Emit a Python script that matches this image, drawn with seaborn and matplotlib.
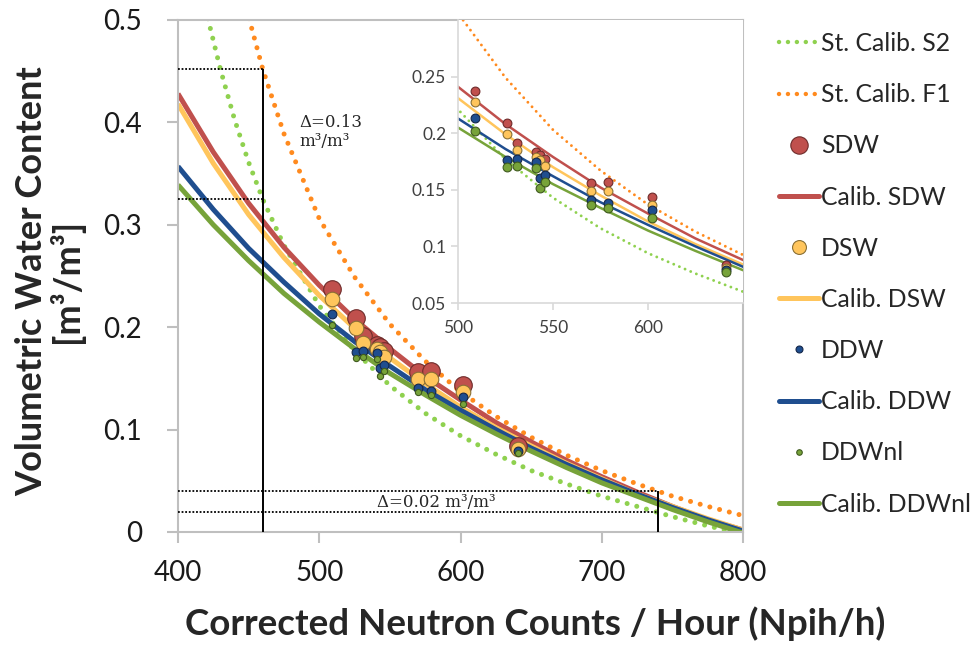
import matplotlib
matplotlib.use("Agg")
import matplotlib.pyplot as plt
from matplotlib.lines import Line2D
import seaborn as sns

# Curves (neutron counts -> volumetric water content)
n_grid = [400, 425, 450, 475, 500, 525, 550, 575, 600, 625, 650, 675, 700, 725, 750, 775, 800]
calib_sdw = [0.428, 0.371, 0.321, 0.278, 0.241, 0.208, 0.179, 0.152, 0.129, 0.107, 0.088, 0.070, 0.054, 0.039, 0.025, 0.012, 0.002]
calib_dsw = [0.418, 0.360, 0.310, 0.268, 0.231, 0.199, 0.170, 0.145, 0.122, 0.102, 0.084, 0.067, 0.052, 0.037, 0.025, 0.013, 0.002]
calib_ddw = [0.357, 0.315, 0.277, 0.244, 0.213, 0.186, 0.162, 0.139, 0.119, 0.100, 0.082, 0.066, 0.051, 0.037, 0.024, 0.012, 0.001]
calib_ddwnl = [0.339, 0.300, 0.265, 0.233, 0.205, 0.179, 0.155, 0.134, 0.114, 0.096, 0.079, 0.063, 0.048, 0.035, 0.022, 0.010, -0.001]

s2_n = [415, 420, 430, 440, 450, 460, 475, 500, 525, 550, 575, 600, 625, 650, 675, 700, 725, 750, 775, 800]
st_calib_s2 = [0.545, 0.508, 0.452, 0.403, 0.361, 0.325, 0.280, 0.221, 0.177, 0.143, 0.116, 0.094, 0.076, 0.060, 0.047, 0.035, 0.025, 0.015, 0.006, -0.002]
f1_n = [440, 450, 460, 475, 500, 525, 550, 575, 600, 625, 650, 675, 700, 725, 750, 775, 800]
st_calib_f1 = [0.565, 0.503, 0.452, 0.389, 0.306, 0.249, 0.203, 0.167, 0.137, 0.113, 0.0925, 0.075, 0.060, 0.047, 0.035, 0.025, 0.016]

# Measured points
pts_n = [509, 526, 531, 541, 543, 546, 570, 579, 602, 641]
sdw = [0.237, 0.209, 0.191, 0.183, 0.181, 0.177, 0.156, 0.157, 0.144, 0.084]
dsw = [0.228, 0.199, 0.185, 0.179, 0.176, 0.171, 0.149, 0.149, 0.137, 0.081]
ddw = [0.213, 0.176, 0.177, 0.175, 0.160, 0.163, 0.141, 0.138, 0.132, 0.079]
ddwnl = [0.202, 0.170, 0.171, 0.169, 0.152, 0.157, 0.137, 0.134, 0.125, 0.077]

# Delta annotation levels
n_wet, wet_hi, wet_lo = 460, 0.452, 0.325
n_dry, dry_hi, dry_lo = 740, 0.040, 0.020

main_xticks = [400, 500, 600, 700, 800]
main_yticks = [0, 0.1, 0.2, 0.3, 0.4, 0.5]
main_ylabels = ["0", "0.1", "0.2", "0.3", "0.4", "0.5"]
inset_xticks = [500, 550, 600]
inset_yticks = [0.05, 0.10, 0.15, 0.20, 0.25]
inset_ylabels = ["0.05", "0.1", "0.15", "0.2", "0.25"]

RED, YEL, BLU, GRN = "#C0504D", "#FFC55C", "#1F4E8F", "#77A33A"
RED_E, YEL_E, BLU_E, GRN_E = "#6E2B2A", "#8A7035", "#14274A", "#3F5A1E"
S2_C, F1_C = "#8FD14F", "#FF8A1E"
GRID = "#BFBFBF"

sns.set_style("white")
plt.rcParams["font.family"] = ["Lato", "DejaVu Sans"]

fig = plt.figure(figsize=(9.79, 6.48), dpi=100)
ax = fig.add_axes([178 / 979, 1 - 532 / 648, 565 / 979, 512 / 648])
axin = fig.add_axes([458 / 979, 1 - 303 / 648, 285 / 979, 283 / 648])

dot = (0, (0.01, 2.0))


def draw_all(a, lw, dot_lw, dot_style, sizes):
    sns.lineplot(x=s2_n, y=st_calib_s2, ax=a, color=S2_C, lw=dot_lw, linestyle=dot_style,
                 dash_capstyle="round", estimator=None, sort=False, legend=False)
    sns.lineplot(x=f1_n, y=st_calib_f1, ax=a, color=F1_C, lw=dot_lw, linestyle=dot_style,
                 dash_capstyle="round", estimator=None, sort=False, legend=False)
    for ys, c in [(calib_sdw, RED), (calib_dsw, YEL), (calib_ddw, BLU), (calib_ddwnl, GRN)]:
        sns.lineplot(x=n_grid, y=ys, ax=a, color=c, lw=lw, estimator=None, sort=False,
                     legend=False, solid_capstyle="butt")
    for ys, c, e, s in [(sdw, RED, RED_E, sizes[0]), (dsw, YEL, YEL_E, sizes[1]),
                        (ddw, BLU, BLU_E, sizes[2]), (ddwnl, GRN, GRN_E, sizes[3])]:
        sns.scatterplot(x=pts_n, y=ys, ax=a, s=s, color=c, edgecolor=e, linewidth=0.8,
                        zorder=5, legend=False)


draw_all(ax, 3.6, 3.6, dot, [160, 110, 40, 20])
draw_all(axin, 1.8, 2.1, (0, (0.01, 2.1)), [40, 40, 40, 40])

# Delta annotations
ax.vlines(n_wet, 0, wet_hi, color="black", lw=1.4, zorder=6)
ax.hlines([wet_hi, wet_lo], 400, n_wet, color="black", lw=1.3, linestyles=(0, (1, 1)), zorder=6)
ax.vlines(n_dry, 0, dry_hi, color="black", lw=1.4, zorder=6)
ax.hlines([dry_hi, dry_lo], 400, n_dry, color="black", lw=1.3, linestyles=(0, (1, 1)), zorder=6)
ax.text(486, 0.408, "Δ=0.13\nm³/m³", family="DejaVu Serif", fontsize=12,
        ha="left", va="top", linespacing=1.15)
ax.text(583, 0.029, "Δ=0.02 m³/m³", family="DejaVu Serif", fontsize=12,
        ha="center", va="center")

# Main axes styling
ax.set_xlim(400, 800)
ax.set_ylim(0, 0.5)
ax.set_xticks(main_xticks)
ax.set_yticks(main_yticks)
ax.set_yticklabels(main_ylabels)
for sp in ax.spines.values():
    sp.set_color(GRID)
    sp.set_linewidth(1.5)
ax.tick_params(axis="both", direction="out", length=8, width=1.5, color=GRID,
               labelsize=20, labelcolor="#1a1a1a", bottom=True, left=True)
ax.tick_params(axis="x", pad=12)
ax.tick_params(axis="y", pad=18)
ax.set_xlabel("Corrected Neutron Counts / Hour (Npih/h)", fontsize=26.5, fontweight="bold")
ax.xaxis.set_label_coords(0.632, -0.145)
ax.set_ylabel("Volumetric Water Content\n[m³/m³]", fontsize=26, fontweight="bold",
              linespacing=1.0)
ax.yaxis.set_label_coords(-0.166, 0.49)

# Inset styling
axin.set_facecolor("white")
axin.set_xlim(500, 650)
axin.set_ylim(0.05, 0.30)
axin.set_xticks(inset_xticks)
axin.set_yticks(inset_yticks)
axin.set_yticklabels(inset_ylabels)
axin.set_xlabel("")
axin.set_ylabel("")
axin.spines["top"].set_visible(False)
axin.spines["right"].set_visible(False)
for k in ["left", "bottom"]:
    axin.spines[k].set_color("#D9D9D9")
    axin.spines[k].set_linewidth(1.2)
axin.tick_params(axis="both", direction="out", length=5, width=1.2, color="#D9D9D9",
                 labelsize=12.5, labelcolor="#404040", bottom=True, left=True)
axin.tick_params(axis="x", pad=7)

# Legend
handles = [
    Line2D([], [], color=S2_C, lw=3.2, linestyle=(0, (0.01, 2.0)), dash_capstyle="round"),
    Line2D([], [], color=F1_C, lw=3.2, linestyle=(0, (0.01, 2.0)), dash_capstyle="round"),
    Line2D([], [], ls="none", marker="o", ms=12.5, mfc=RED, mec=RED_E, mew=0.8),
    Line2D([], [], color=RED, lw=3.6),
    Line2D([], [], ls="none", marker="o", ms=10, mfc=YEL, mec=YEL_E, mew=0.8),
    Line2D([], [], color=YEL, lw=3.6),
    Line2D([], [], ls="none", marker="o", ms=5, mfc=BLU, mec=BLU_E, mew=0.8),
    Line2D([], [], color=BLU, lw=3.6),
    Line2D([], [], ls="none", marker="o", ms=4, mfc=GRN, mec=GRN_E, mew=0.8),
    Line2D([], [], color=GRN, lw=3.6),
]
labels = ["St. Calib. S2", "St. Calib. F1", "SDW", "Calib. SDW", "DSW", "Calib. DSW",
          "DDW", "Calib. DDW", "DDWnl", "Calib. DDWnl"]
fig.legend(handles, labels, loc="upper left", bbox_to_anchor=(779 / 979, 1 - 32 / 648),
           frameon=False, fontsize=17.8, handlelength=1.6, handletextpad=0.1,
           labelspacing=1.14, borderaxespad=0, borderpad=0)

fig.savefig("out.png", dpi=100)
